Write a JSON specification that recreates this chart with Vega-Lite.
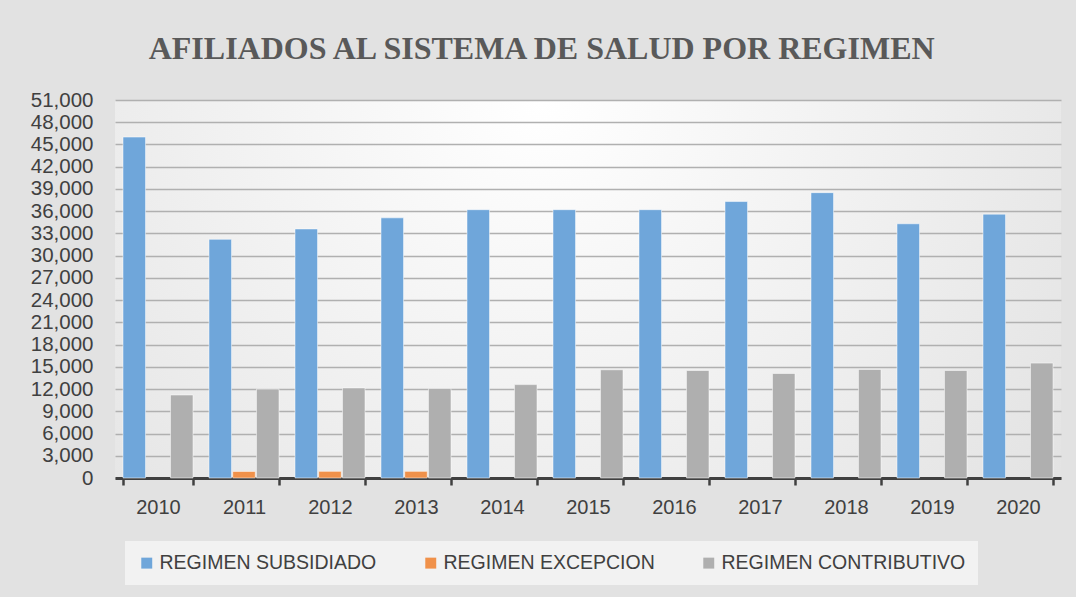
{
  "$schema": "https://vega.github.io/schema/vega-lite/v6.json",
  "width": 946,
  "height": 378,
  "autosize": {"type": "none"},
  "padding": {"left": 115, "top": 100, "right": 15, "bottom": 119},
  "background": "#e2e2e2",
  "title": {
    "text": "AFILIADOS AL SISTEMA DE SALUD POR REGIMEN",
    "font": "Liberation Serif",
    "fontSize": 32,
    "fontWeight": "bold",
    "color": "#595959",
    "anchor": "middle",
    "frame": "bounds",
    "offset": 24,
    "dx": -4
  },
  "config": {
    "view": {
      "stroke": null,
      "fill": {
        "gradient": "radial",
        "x1": 0.45, "y1": 0.3, "r1": 0,
        "x2": 0.45, "y2": 0.3, "r2": 0.75,
        "stops": [
          {"offset": 0, "color": "#ffffff"},
          {"offset": 1, "color": "#e0e0e0"}
        ]
      }
    },
    "axis": {
      "labelFont": "Liberation Sans",
      "labelFontSize": 20,
      "labelColor": "#404040",
      "title": null
    }
  },
  "data": {
    "values": [
      {"year": "2010", "regimen": "REGIMEN SUBSIDIADO", "value": 46000},
      {"year": "2010", "regimen": "REGIMEN CONTRIBUTIVO", "value": 11200},
      {"year": "2011", "regimen": "REGIMEN SUBSIDIADO", "value": 32200},
      {"year": "2011", "regimen": "REGIMEN EXCEPCION", "value": 880},
      {"year": "2011", "regimen": "REGIMEN CONTRIBUTIVO", "value": 12000},
      {"year": "2012", "regimen": "REGIMEN SUBSIDIADO", "value": 33600},
      {"year": "2012", "regimen": "REGIMEN EXCEPCION", "value": 900},
      {"year": "2012", "regimen": "REGIMEN CONTRIBUTIVO", "value": 12150},
      {"year": "2013", "regimen": "REGIMEN SUBSIDIADO", "value": 35100},
      {"year": "2013", "regimen": "REGIMEN EXCEPCION", "value": 900},
      {"year": "2013", "regimen": "REGIMEN CONTRIBUTIVO", "value": 12080},
      {"year": "2014", "regimen": "REGIMEN SUBSIDIADO", "value": 36200},
      {"year": "2014", "regimen": "REGIMEN CONTRIBUTIVO", "value": 12600},
      {"year": "2015", "regimen": "REGIMEN SUBSIDIADO", "value": 36200},
      {"year": "2015", "regimen": "REGIMEN CONTRIBUTIVO", "value": 14600},
      {"year": "2016", "regimen": "REGIMEN SUBSIDIADO", "value": 36200},
      {"year": "2016", "regimen": "REGIMEN CONTRIBUTIVO", "value": 14500},
      {"year": "2017", "regimen": "REGIMEN SUBSIDIADO", "value": 37300},
      {"year": "2017", "regimen": "REGIMEN CONTRIBUTIVO", "value": 14100},
      {"year": "2018", "regimen": "REGIMEN SUBSIDIADO", "value": 38500},
      {"year": "2018", "regimen": "REGIMEN CONTRIBUTIVO", "value": 14650},
      {"year": "2019", "regimen": "REGIMEN SUBSIDIADO", "value": 34300},
      {"year": "2019", "regimen": "REGIMEN CONTRIBUTIVO", "value": 14500},
      {"year": "2020", "regimen": "REGIMEN SUBSIDIADO", "value": 35600},
      {"year": "2020", "regimen": "REGIMEN CONTRIBUTIVO", "value": 15500}
    ]
  },
  "mark": {"type": "bar", "stroke": "#ffffff", "strokeOpacity": 0.5, "strokeWidth": 1},
  "encoding": {
    "x": {
      "field": "year",
      "type": "nominal",
      "scale": {"paddingInner": 0.186, "paddingOuter": 0.093},
      "axis": {
        "labelAngle": 0,
        "domainColor": "#404040",
        "domainWidth": 3,
        "tickColor": "#404040",
        "tickWidth": 2.5,
        "tickSize": 7,
        "tickBand": "extent",
        "labelPadding": 12,
        "grid": false
      }
    },
    "xOffset": {
      "field": "regimen",
      "type": "nominal",
      "sort": ["REGIMEN SUBSIDIADO", "REGIMEN EXCEPCION", "REGIMEN CONTRIBUTIVO"],
      "scale": {"paddingInner": 0.05}
    },
    "y": {
      "field": "value",
      "type": "quantitative",
      "scale": {"domain": [0, 51000], "nice": false},
      "axis": {
        "values": [0, 3000, 6000, 9000, 12000, 15000, 18000, 21000, 24000, 27000, 30000, 33000, 36000, 39000, 42000, 45000, 48000, 51000],
        "format": ",d",
        "domain": false,
        "ticks": false,
        "labelPadding": 22,
        "labelFontSize": 20.5,
        "gridColor": "#b0b0b0",
        "gridWidth": 1.5
      }
    },
    "color": {
      "field": "regimen",
      "type": "nominal",
      "sort": ["REGIMEN SUBSIDIADO", "REGIMEN EXCEPCION", "REGIMEN CONTRIBUTIVO"],
      "scale": {
        "domain": ["REGIMEN SUBSIDIADO", "REGIMEN EXCEPCION", "REGIMEN CONTRIBUTIVO"],
        "range": ["#6fa6da", "#f0914a", "#afafaf"]
      },
      "legend": {
        "title": null,
        "orient": "none",
        "direction": "horizontal",
        "legendX": 10,
        "legendY": 441,
        "fillColor": "#f2f2f2",
        "padding": 12,
        "symbolType": "square",
        "symbolSize": 120,
        "symbolStrokeWidth": 0,
        "labelFont": "Liberation Sans",
        "labelFontSize": 19.5,
        "labelColor": "#404040",
        "labelOffset": 3,
        "columnPadding": 44,
        "labelLimit": 400
      }
    }
  }
}
